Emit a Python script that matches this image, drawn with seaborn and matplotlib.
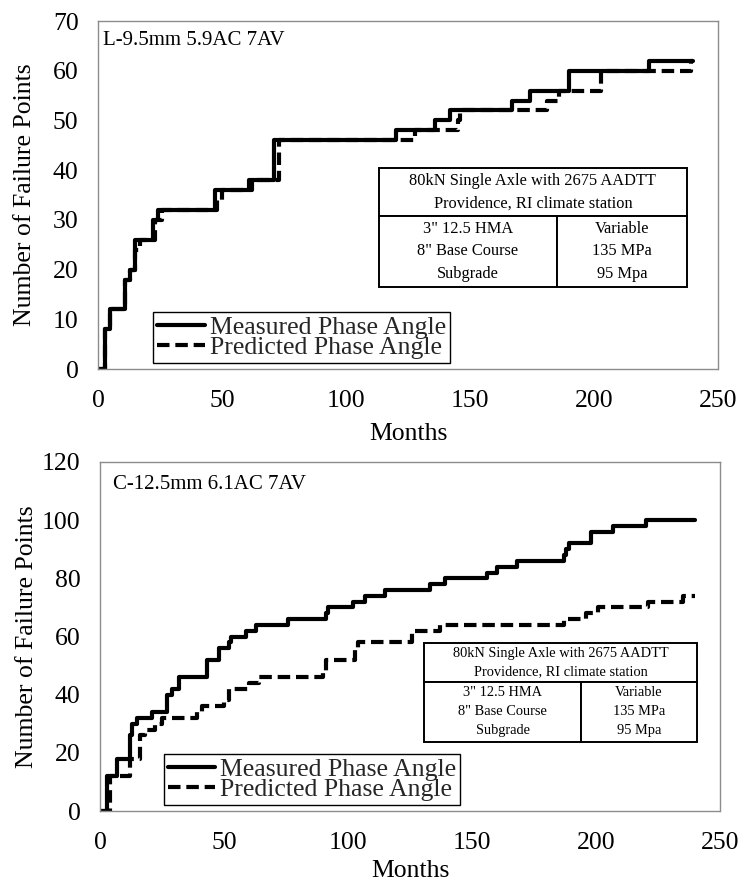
import matplotlib
matplotlib.use("Agg")
import matplotlib.pyplot as plt
import seaborn as sns
import pandas as pd

# ---- data: (month at which the count changes, count from that month on) ----
top_meas_month = [0, 3, 5, 11, 13, 15, 22, 24, 47, 61, 71, 120, 136, 142, 167, 174, 190, 222, 240]
top_meas_count = [0, 8, 12, 18, 20, 26, 30, 32, 36, 38, 46, 48, 50, 52, 54, 56, 60, 62, 62]

top_pred_month = [0, 3, 5, 11, 13, 15, 17, 23, 26, 48, 50, 62, 73, 128, 145, 146, 181, 186, 203, 239, 240]
top_pred_count = [0, 8, 12, 18, 20, 24, 26, 30, 32, 34, 36, 38, 46, 48, 50, 52, 54, 56, 60, 62, 62]

bot_meas_month = [0, 3, 7, 12, 13, 15, 21, 27, 29, 32, 43, 48, 52, 53, 59, 63, 76, 91, 92, 102, 107,
                  115, 133, 139, 156, 160, 168, 187, 188, 189, 198, 207, 220, 240]
bot_meas_count = [0, 12, 18, 26, 30, 32, 34, 40, 42, 46, 52, 56, 58, 60, 62, 64, 66, 68, 70, 72, 74,
                  76, 78, 80, 82, 84, 86, 88, 90, 92, 96, 98, 100, 100]

bot_pred_month = [0, 4, 12, 16, 18, 22, 25, 39, 41, 50, 52, 60, 64, 90, 91, 103, 104, 126, 137, 187,
                  196, 201, 221, 235, 240]
bot_pred_count = [0, 12, 18, 26, 28, 30, 32, 34, 36, 38, 42, 44, 46, 48, 52, 56, 58, 62, 64, 66,
                  68, 70, 72, 74, 74]

series_names = ["Measured Phase Angle", "Predicted Phase Angle"]
panel_titles = ["L-9.5mm 5.9AC 7AV", "C-12.5mm 6.1AC 7AV"]
table_header = "80kN Single Axle with 2675 AADTT\nProvidence, RI climate station"
table_layers = "3\" 12.5 HMA\n8\" Base Course\nSubgrade"
table_moduli = "Variable\n135 MPa\n95 Mpa"
top_yticks = [0, 10, 20, 30, 40, 50, 60, 70]
bot_yticks = [0, 20, 40, 60, 80, 100, 120]
xticks = [0, 50, 100, 150, 200, 250]

sns.set_theme(style="white")
plt.rcParams["font.family"] = ["Liberation Serif", "DejaVu Serif"]

fig = plt.figure(figsize=(7.42, 8.81), dpi=100)
W, H = 742, 881
ax_top = fig.add_axes([98 / W, (H - 369) / H, 620 / W, 348 / H])
ax_bot = fig.add_axes([100 / W, (H - 811) / H, 620 / W, 349 / H])

DASH = (0, (3.0, 1.4))


def draw_panel(ax, meas_m, meas_c, pred_m, pred_c, yticks, title, legend_xy,
               xlabel_y, table_box, table_fs, table_ls):
    meas = pd.DataFrame({"Months": meas_m, "Count": meas_c})
    pred = pd.DataFrame({"Months": pred_m, "Count": pred_c})
    sns.lineplot(data=meas, x="Months", y="Count", ax=ax, color="black", linewidth=3.0,
                 drawstyle="steps-post", label=series_names[0])
    sns.lineplot(data=pred, x="Months", y="Count", ax=ax, color="black", linewidth=3.0,
                 drawstyle="steps-post", linestyle=DASH, label=series_names[1])

    ax.set_xlim(0, 250)
    ax.set_ylim(yticks[0], yticks[-1])
    ax.set_xticks(xticks)
    ax.set_yticks(yticks)
    ax.tick_params(axis="both", length=0, labelsize=18.5, colors="black")
    ax.tick_params(axis="y", pad=14)
    ax.tick_params(axis="x", pad=15)
    ax.set_xlabel("Months", fontsize=18.5, color="black")
    ax.set_ylabel("Number of Failure Points", fontsize=18.5, color="black")
    ax.xaxis.set_label_coords(0.5, xlabel_y)
    ax.yaxis.set_label_coords(-0.10, 0.5)
    ax.grid(False)
    for sp in ax.spines.values():
        sp.set_color("#8c8c8c")
        sp.set_linewidth(1.0)
    ax.spines["bottom"].set_linestyle((0, (2, 1)))

    ax.text(title[1], title[2], title[0], transform=ax.transAxes, fontsize=15,
            ha="left", va="center", color="black")

    leg = ax.legend(loc="lower left", bbox_to_anchor=legend_xy, borderaxespad=0,
                    frameon=True, fancybox=False, framealpha=1, edgecolor="black",
                    fontsize=18.5, handlelength=1.85, handletextpad=0.2,
                    labelspacing=-0.12, borderpad=0.15)
    leg.get_frame().set_linewidth(1.0)

    x0, x1, y_bot, y_mid, y_top, split = table_box
    hdr = ax.table(cellText=[[table_header]], cellLoc="center",
                   bbox=[x0, y_mid, x1 - x0, y_top - y_mid])
    body = ax.table(cellText=[[table_layers, table_moduli]], cellLoc="center",
                    colWidths=[split, 1 - split],
                    bbox=[x0, y_bot, x1 - x0, y_mid - y_bot])
    for tbl, ls in ((hdr, table_ls[0]), (body, table_ls[1])):
        tbl.auto_set_font_size(False)
        tbl.set_fontsize(table_fs)
        tbl.set_zorder(5)
        for cell in tbl.get_celld().values():
            cell.set_edgecolor("black")
            cell.set_linewidth(1.4)
            cell.set_facecolor("white")
            cell.get_text().set_linespacing(ls)
            cell.get_text().set_color("black")


draw_panel(ax_top, top_meas_month, top_meas_count, top_pred_month, top_pred_count,
           top_yticks, (panel_titles[0], 0.008, 0.943), (0.089, 0.017), -0.155,
           (0.453, 0.950, 0.236, 0.440, 0.578, 0.578), 11.8, (1.55, 1.55))
draw_panel(ax_bot, bot_meas_month, bot_meas_count, bot_pred_month, bot_pred_count,
           bot_yticks, (panel_titles[1], 0.021, 0.935), (0.103, 0.017), -0.139,
           (0.523, 0.963, 0.198, 0.370, 0.481, 0.575), 10.4, (1.45, 1.6))

fig.savefig("out.png", dpi=100, facecolor="white")
